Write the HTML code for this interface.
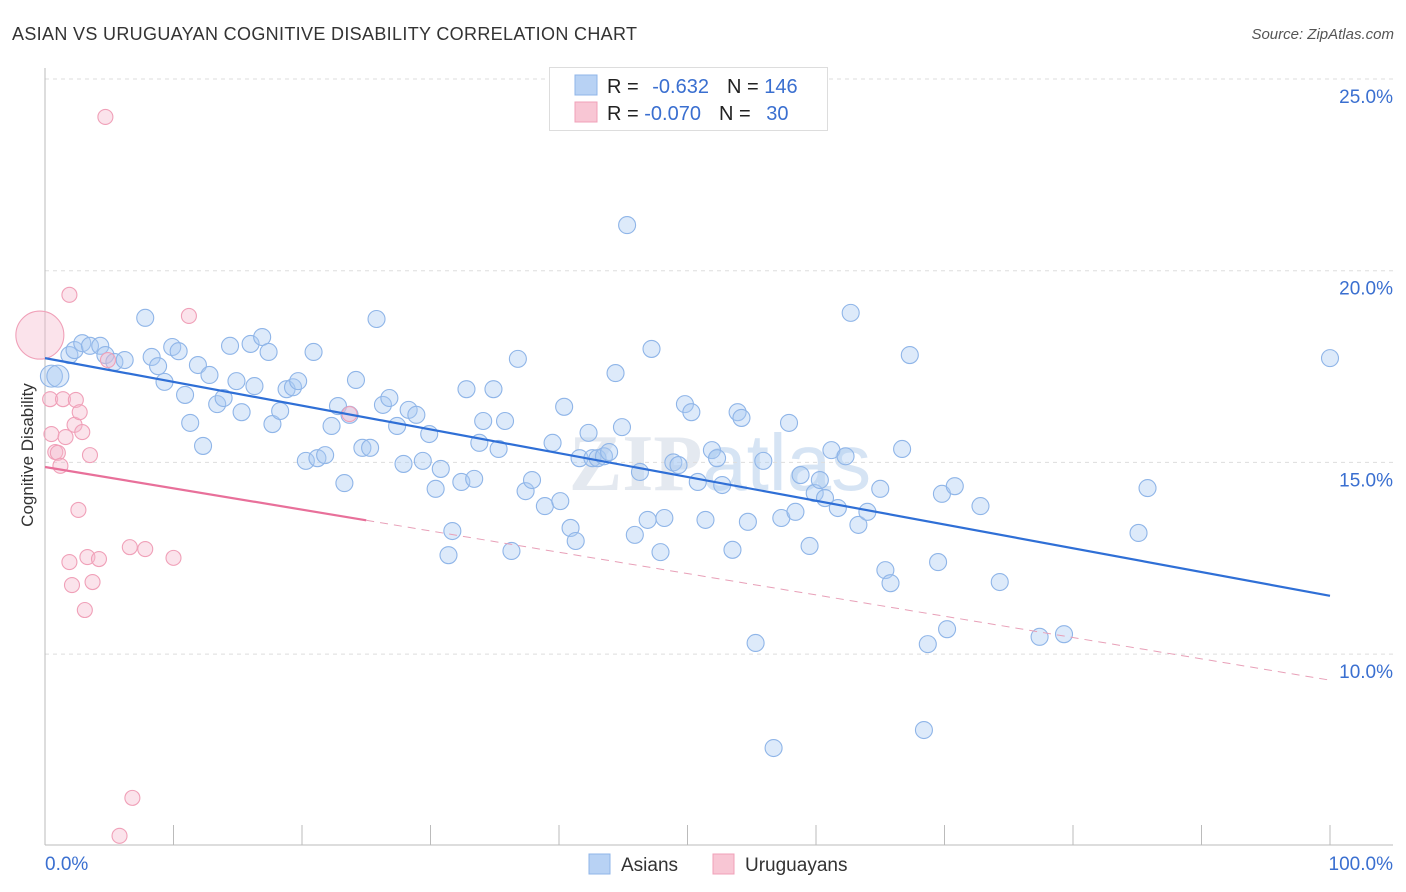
<!DOCTYPE html>
<html><head><meta charset="utf-8"><style>
body{margin:0;background:#fff;font-family:"Liberation Sans",sans-serif;}
svg{display:block}
</style></head><body>
<svg id="chart" width="1406" height="892" xmlns="http://www.w3.org/2000/svg">
<text x="12" y="40" font-size="18" fill="#333" textLength="625">ASIAN VS URUGUAYAN COGNITIVE DISABILITY CORRELATION CHART</text>
<text x="1394" y="39" font-size="15" fill="#555" font-style="italic" text-anchor="end">Source: ZipAtlas.com</text>
<text x="720" y="490" font-size="80" fill="#e4e9f0" text-anchor="middle" font-family="Liberation Serif" font-weight="bold">ZIP<tspan font-family="Liberation Sans" font-weight="normal" fill="#d6e4f4">atlas</tspan></text>
<text transform="translate(33,455) rotate(-90)" font-size="17" fill="#333" text-anchor="middle">Cognitive Disability</text>
<g id="grid"></g><g id="pts"></g><g id="lines"></g>
<g>
<rect x="549.5" y="67.5" width="278" height="63" fill="#fff" stroke="#ddd"/>
<rect x="575" y="75" width="22" height="20" fill="#b8d2f4" stroke="#8fb5e8"/>
<rect x="575" y="102" width="22" height="20" fill="#f8c6d4" stroke="#f0a0b8"/>
<text x="607" y="93" font-size="20" fill="#222">R = <tspan fill="#3a6fd0" dx="8">-0.632</tspan><tspan dx="18" fill="#222">N = </tspan><tspan fill="#3a6fd0">146</tspan></text>
<text x="607" y="120" font-size="20" fill="#222">R = <tspan fill="#3a6fd0">-0.070</tspan><tspan dx="18" fill="#222">N = </tspan><tspan fill="#3a6fd0" dx="10">30</tspan></text>
</g>
<g>
<rect x="589" y="854" width="21" height="20" fill="#b8d2f4" stroke="#8fb5e8"/>
<text x="621" y="871" font-size="19" fill="#333">Asians</text>
<rect x="713" y="854" width="21" height="20" fill="#f8c6d4" stroke="#f0a0b8"/>
<text x="745" y="871" font-size="19" fill="#333">Uruguayans</text>
</g>
</svg>
<script>
const yTicks=[25,20,15,10];
const asianX=[0.5,1.0,1.9,2.3,2.9,3.5,4.3,4.7,5.4,6.2,7.8,8.3,8.8,9.3,9.9,10.4,10.9,11.3,11.9,12.3,12.8,13.4,13.9,14.4,14.9,15.3,16.0,16.3,16.9,17.4,17.7,18.3,18.8,19.3,19.7,20.3,20.9,21.2,21.8,22.3,22.8,23.3,23.7,24.2,24.7,25.3,25.8,26.3,26.8,27.4,27.9,28.3,28.9,29.4,29.9,30.4,30.8,31.4,31.7,32.4,32.8,33.4,33.8,34.1,34.9,35.3,35.8,36.3,36.8,37.4,37.9,38.9,39.5,40.1,40.4,40.9,41.3,41.6,42.3,42.6,43.0,43.5,43.9,44.4,44.9,45.3,45.9,46.3,46.9,47.2,47.9,48.2,48.9,49.3,49.8,50.3,50.8,51.4,51.9,52.3,52.7,53.5,53.9,54.2,54.7,55.3,55.9,56.7,57.3,57.9,58.4,58.8,59.5,59.9,60.3,60.7,61.2,61.7,62.3,62.7,63.3,64.0,65.0,65.4,65.8,66.7,67.3,68.4,68.7,69.5,69.8,70.2,70.8,72.8,74.3,77.4,79.3,85.1,85.8,100];
const asianY=[17.25,17.25,17.8,17.93,18.11,18.04,18.04,17.8,17.62,17.67,18.77,17.75,17.51,17.1,18.01,17.9,16.76,16.03,17.54,15.43,17.28,16.52,16.68,18.04,17.12,16.31,18.09,16.99,18.27,17.88,16.0,16.34,16.91,16.96,17.12,15.04,17.88,15.11,15.19,15.95,16.47,14.46,16.24,17.15,15.38,15.38,18.74,16.5,16.68,15.95,14.96,16.37,16.24,15.04,15.74,14.31,14.83,12.58,13.21,14.49,16.91,14.57,15.51,16.08,16.91,15.35,16.08,12.69,17.7,14.25,14.54,13.86,15.51,13.99,16.45,13.29,12.95,15.11,15.77,15.11,15.11,15.16,15.27,17.33,15.92,21.19,13.11,14.75,13.5,17.96,12.66,13.55,15.0,14.93,16.52,16.31,14.49,13.5,15.32,15.11,14.41,12.72,16.31,16.16,13.45,10.29,15.04,7.55,13.55,16.03,13.71,14.67,12.82,14.2,14.54,14.07,15.32,13.81,15.16,18.9,13.37,13.71,14.31,12.19,11.85,15.35,17.8,8.02,10.26,12.4,14.18,10.65,14.38,13.86,11.88,10.45,10.52,13.16,14.33,17.72];
const uruX=[-0.4,0.4,0.5,0.8,1.0,1.2,1.4,1.6,1.9,1.9,2.1,2.3,2.4,2.7,2.9,3.1,3.3,3.5,3.7,4.2,4.7,4.9,5.8,6.6,6.8,7.8,10.0,11.2,23.7,2.6];
const uruY=[18.32,16.65,15.74,15.27,15.25,14.91,16.65,15.66,19.37,12.4,11.8,15.98,16.63,16.31,15.79,11.15,12.53,15.19,11.88,12.48,24.01,17.67,5.26,12.79,6.25,12.74,12.51,18.82,16.26,13.76];
const asianFit=[17.72,11.52];
const uruFit=[14.88,9.32];
const uruSolidEnd=25;
const NS='http://www.w3.org/2000/svg';
const X=v=>45+v*12.85, Y=v=>79+(25-v)*38.34;
function mk(t,a,p){const e=document.createElementNS(NS,t);for(const k in a)e.setAttribute(k,a[k]);document.getElementById(p).appendChild(e);return e;}
yTicks.forEach(t=>{
 const l=mk('line',{x1:45,x2:1393,y1:Y(t),y2:Y(t),stroke:'#ddd','stroke-dasharray':'4,4'},'grid');
 
 
 const tx=mk('text',{x:1393,y:Y(t)+24,'font-size':19,fill:'#3a6fd0','text-anchor':'end'},'grid');
 tx.textContent=t.toFixed(1)+'%';
 
 
});
const ax=mk('line',{x1:45,x2:1393,y1:845,y2:845,stroke:'#bbb'},'grid');


const ay=mk('line',{x1:45,x2:45,y1:68,y2:845,stroke:'#bbb'},'grid');


for(let i=1;i<=10;i++){const t=mk('line',{x1:X(i*10),x2:X(i*10),y1:825,y2:845,stroke:'#bbb'},'grid');
 
 }
[['0.0%',45,'start'],['100.0%',1393,'end']].forEach(a=>{const t=mk('text',{x:a[1],y:870,'font-size':19,fill:'#3a6fd0','text-anchor':a[2]},'grid');t.textContent=a[0];
 
 });
asianX.forEach((x,i)=>{const c=mk('circle',{cx:X(x),cy:Y(asianY[i]),r:(i<2?11:8.5),fill:'rgba(170,202,242,0.4)',stroke:'#8fb5e8','stroke-width':1.1},'pts');
 
 });
uruX.forEach((x,i)=>{const c=mk('circle',{cx:X(x),cy:Y(uruY[i]),r:(i==0?24:7.5),fill:'rgba(246,186,206,0.4)',stroke:'#f0a0b8','stroke-width':1.1},'pts');
 
 });
const bl=mk('line',{x1:X(0),y1:Y(asianFit[0]),x2:X(100),y2:Y(asianFit[1]),stroke:'#2f6fd6','stroke-width':2.2},'lines');


const u=v=>uruFit[0]+(uruFit[1]-uruFit[0])*v/100;
const ps=mk('line',{x1:X(0),y1:Y(u(0)),x2:X(uruSolidEnd),y2:Y(u(uruSolidEnd)),stroke:'#e8709a','stroke-width':2.2},'lines');


const pd=mk('line',{x1:X(uruSolidEnd),y1:Y(u(uruSolidEnd)),x2:X(100),y2:Y(u(100)),stroke:'#e8a0b8','stroke-width':1,'stroke-dasharray':'8,6'},'lines');


</script>
</body></html>
